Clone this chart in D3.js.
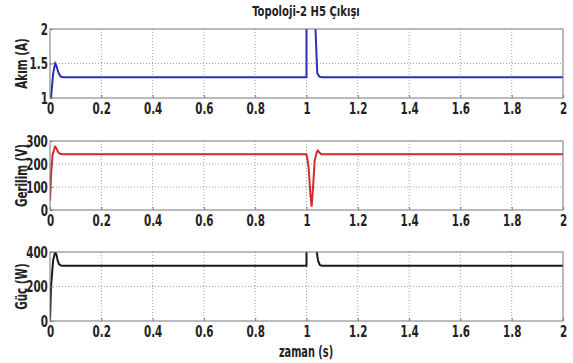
<!DOCTYPE html>
<html>
<head>
<meta charset="utf-8">
<script src="https://cdn.jsdelivr.net/npm/d3@7"></script>
<style>
  body { margin: 0; background: #fff; }
  text { font-family: "DejaVu Sans Condensed", "Liberation Sans Narrow", sans-serif; font-stretch: condensed; font-weight: bold; fill: #222; }
</style>
</head>
<body>
<script>
// time points (s), shared x values
var xTicks = [0, 0.2, 0.4, 0.6, 0.8, 1, 1.2, 1.4, 1.6, 1.8, 2];

// akım (A)
var curT = [0, 0.004, 0.012, 0.02, 0.025, 0.03, 0.035, 0.042, 0.05, 1.0, 1.0, 1.035, 1.035, 1.042, 1.05, 1.06, 2];
var curV = [1.0, 1.0, 1.35, 1.5, 1.47, 1.4, 1.35, 1.31, 1.3, 1.3, 2.6, 2.6, 2.0, 1.36, 1.31, 1.3, 1.3];

// gerilim (V)
var volT = [0, 0.004, 0.01, 0.02, 0.025, 0.03, 0.035, 0.042, 0.05, 1.0, 1.008, 1.015, 1.02, 1.025, 1.032, 1.04, 1.045, 1.05, 1.058, 2];
var volV = [40, 150, 240, 275, 268, 255, 247, 243, 242, 242, 190, 70, 15, 90, 215, 252, 258, 250, 242, 242];

// güç (W)
var powT = [0, 0.004, 0.012, 0.02, 0.025, 0.03, 0.035, 0.042, 0.05, 1.0, 1.0, 1.04, 1.04, 1.045, 1.052, 1.06, 2];
var powV = [0, 200, 350, 400, 385, 350, 330, 321, 320, 320, 600, 600, 400, 350, 325, 320, 320];

var panels = [
  { t: curT, v: curV, dom: [1, 2], ticks: [1, 1.5, 2], fmt: d3.format("~g"), label: "Akım (A)", color: "#2a2fb5", top: 29, bot: 98 },
  { t: volT, v: volV, dom: [0, 300], ticks: [0, 100, 200, 300], fmt: d3.format("d"), label: "Gerilim (V)", color: "#d42a2a", top: 141, bot: 210 },
  { t: powT, v: powV, dom: [0, 400], ticks: [0, 200, 400], fmt: d3.format("d"), label: "Güç (W)", color: "#1a1a1a", top: 252, bot: 321 }
];

var W = 573, H = 363;
var SQ = 0.72; // horizontal squeeze to get a narrow face
var svg = d3.select("body").append("svg").attr("width", W).attr("height", H);

var x = d3.scaleLinear().domain([0, 2]).range([50, 563]);

function squeezed(px, py, s) {
  return "translate(" + px + "," + py + ") scale(" + s + ",1)";
}

svg.append("text")
  .attr("transform", squeezed(306, 16, 0.8))
  .attr("text-anchor", "middle")
  .style("font-size", "14px")
  .text("Topoloji-2 H5 Çıkışı");

panels.forEach(function(p, i) {
  var y = d3.scaleLinear().domain(p.dom).range([p.bot, p.top]);
  var g = svg.append("g");

  // grid
  g.selectAll("line.gx").data(xTicks.slice(1, -1)).enter().append("line")
    .attr("x1", d => x(d)).attr("x2", d => x(d))
    .attr("y1", p.top).attr("y2", p.bot)
    .attr("stroke", "#888").attr("stroke-width", 0.8).attr("stroke-dasharray", "1,2");
  g.selectAll("line.gy").data(p.ticks.slice(1, -1)).enter().append("line")
    .attr("x1", x(0)).attr("x2", x(2))
    .attr("y1", d => y(d)).attr("y2", d => y(d))
    .attr("stroke", "#888").attr("stroke-width", 0.8).attr("stroke-dasharray", "1,2");

  // clip
  var cid = "clip" + i;
  svg.append("clipPath").attr("id", cid).append("rect")
    .attr("x", x(0)).attr("y", p.top).attr("width", x(2) - x(0)).attr("height", p.bot - p.top);

  var pts = p.t.map((t, k) => [t, p.v[k]]);
  g.append("path").datum(pts)
    .attr("clip-path", "url(#" + cid + ")")
    .attr("d", d3.line().x(d => x(d[0])).y(d => y(d[1])))
    .attr("fill", "none").attr("stroke", p.color).attr("stroke-width", 2);

  // box
  g.append("rect").attr("x", x(0)).attr("y", p.top)
    .attr("width", x(2) - x(0)).attr("height", p.bot - p.top)
    .attr("fill", "none").attr("stroke", "#777").attr("stroke-width", 1);

  // axes
  var ax = d3.axisBottom(x).tickValues(xTicks).tickFormat(d3.format("~g")).tickSizeInner(-3).tickSizeOuter(0).tickPadding(5);
  var gx = g.append("g").attr("transform", "translate(0," + p.bot + ")").call(ax);
  gx.select(".domain").remove();
  gx.selectAll("line").attr("stroke", "#777");
  gx.selectAll("text").style("font-size", "16px").attr("fill", "#222")
    .attr("transform", "scale(" + SQ + ",1)");

  var ay = d3.axisLeft(y).tickValues(p.ticks).tickFormat(p.fmt).tickSizeInner(-3).tickSizeOuter(0).tickPadding(3);
  var gy = g.append("g").attr("transform", "translate(" + x(0) + ",0)").call(ay);
  gy.select(".domain").remove();
  gy.selectAll("line").attr("stroke", "#777");
  gy.selectAll("text").style("font-size", "16px").attr("fill", "#222")
    .attr("transform", "scale(" + SQ + ",1)");

  g.append("text")
    .attr("transform", "translate(21," + ((p.top + p.bot) / 2) + ") rotate(-90) scale(" + SQ + ",1)")
    .attr("text-anchor", "middle")
    .attr("dy", "0.35em")
    .style("font-size", "16px")
    .text(p.label);
});

svg.append("text")
  .attr("transform", squeezed(306, 357, 0.68))
  .attr("text-anchor", "middle")
  .style("font-size", "16px")
  .text("zaman (s)");
</script>
</body>
</html>
